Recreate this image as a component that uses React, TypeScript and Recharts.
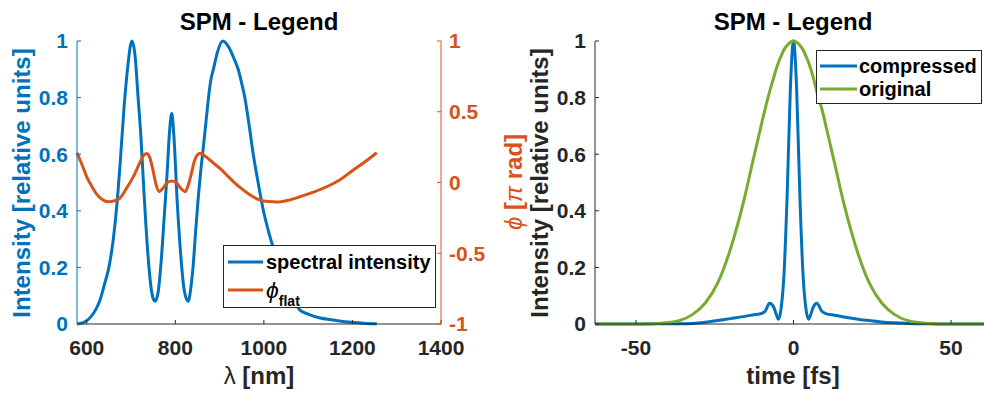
import React from "react"
import { LineChart, Line, XAxis, YAxis, Legend } from "recharts"

// spectral domain: intensity and flat phase versus wavelength (nm)
const wavelength = [
  578, 590, 600, 610, 620, 630, 640, 650, 660, 668, 676, 684, 692, 702, 709, 716, 722, 728, 734, 740,
  747, 754, 761, 768, 775, 781, 787, 792, 797, 804, 812, 820, 829, 836, 840, 846, 852, 858, 863, 869,
  875, 880, 886, 895, 907, 920, 932, 942, 950, 957, 966, 976, 987, 999, 1010, 1021, 1035, 1050, 1065, 1081,
  1100, 1125, 1156, 1190, 1225, 1255,
]
const spectralIntensity = [
  0, 0.004, 0.012, 0.027, 0.05, 0.085, 0.14, 0.2, 0.3, 0.42, 0.58, 0.76, 0.9, 1.0, 0.95, 0.8, 0.67, 0.5, 0.34, 0.21,
  0.11, 0.08, 0.11, 0.22, 0.38, 0.52, 0.68, 0.745, 0.66, 0.44, 0.25, 0.12, 0.08, 0.14, 0.2, 0.33, 0.45, 0.55, 0.62, 0.71,
  0.8, 0.86, 0.9, 0.96, 1.0, 0.98, 0.94, 0.9, 0.85, 0.8, 0.71, 0.6, 0.5, 0.4, 0.33, 0.27, 0.19, 0.13, 0.09, 0.05,
  0.035, 0.022, 0.014, 0.007, 0.003, 0.001,
]
const phaseWavelength = [
  578, 590, 600, 612, 622, 635, 649, 662, 675, 690, 705, 720, 728, 735, 742, 750, 757, 764, 772, 782,
  792, 802, 812, 822, 829, 836, 844, 856, 870, 885, 901, 920, 946, 970, 991, 1010, 1029, 1055, 1082, 1110,
  1142, 1172, 1202, 1230, 1255,
]
const phaseFlat = [
  0.21, 0.12, 0.04, -0.03, -0.08, -0.12, -0.136, -0.13, -0.11, -0.04, 0.04, 0.14, 0.19, 0.205, 0.18, 0.08, -0.02, -0.065, -0.04, 0.0,
  0.01, 0.0, -0.04, -0.065, -0.02, 0.06, 0.16, 0.206, 0.18, 0.14, 0.1, 0.04, -0.035, -0.09, -0.124, -0.135, -0.138, -0.125, -0.1, -0.07,
  -0.03, 0.02, 0.088, 0.15, 0.21,
]

// temporal domain: pulse intensity versus time (fs)
const time = [
  -63, -55, -48, -42, -36, -32, -28, -24, -20, -16, -13, -10.5, -9, -7.6, -6.3, -5.5, -4.75, -4, -3, -2,
  -1, 0, 1, 2, 3, 4, 4.75, 5.5, 6.3, 7.4, 9, 10.5, 13, 16, 20, 24, 28, 32, 36, 42,
  48, 55, 63,
]
const compressed = [
  0, 0, 0, 0.001, 0.001, 0.002, 0.006, 0.012, 0.019, 0.026, 0.032, 0.036, 0.045, 0.073, 0.06, 0.035, 0.017, 0.05, 0.18, 0.46,
  0.83, 1, 0.83, 0.46, 0.18, 0.05, 0.017, 0.035, 0.06, 0.073, 0.045, 0.036, 0.031, 0.025, 0.018, 0.012, 0.007, 0.004, 0.002, 0.001,
  0, 0, 0,
]
const original = [
  0, 0, 0, 0.003, 0.013, 0.034, 0.074, 0.146, 0.265, 0.425, 0.57, 0.69, 0.76, 0.82, 0.87, 0.9, 0.925, 0.945, 0.97, 0.985,
  0.996, 1, 0.996, 0.985, 0.97, 0.945, 0.925, 0.9, 0.87, 0.82, 0.76, 0.69, 0.57, 0.425, 0.265, 0.146, 0.074, 0.034, 0.013, 0.003,
  0, 0, 0,
]

const wavelengthTicks = [600, 800, 1000, 1200, 1400]
const intensityTicks = [0, 0.2, 0.4, 0.6, 0.8, 1]
const phaseTicks = [-1, -0.5, 0, 0.5, 1]
const timeTicks = [-50, 0, 50]

const BLUE = "#0072BD"
const ORANGE = "#D95319"
const GREEN = "#77AC30"
const AXIS = "#262626"
const FONT = '"Liberation Sans", Arial, Helvetica, sans-serif'
const LINE_WIDTH = 3

const spectrumData = wavelength.map((lambda, i) => ({ lambda, intensity: spectralIntensity[i] }))
const phaseData = phaseWavelength.map((lambda, i) => ({ lambda, phase: phaseFlat[i] }))
const pulseData = time.map((t, i) => ({ t, compressed: compressed[i], original: original[i] }))

const tickFont = (fill: string) => ({ fill, fontSize: 21, fontWeight: 700, fontFamily: FONT })

// legend label: "a_b" is drawn as a with subscript b
function legendText(value: string) {
  const [main, sub] = value.split("_")
  if (!sub) return <span>{value}</span>
  return (
    <span>
      <span style={{ fontStyle: "italic", fontWeight: 400, fontSize: 23 }}>{main}</span>
      <span style={{ fontSize: 14, position: "relative", top: 8 }}>{sub}</span>
    </span>
  )
}

type Box = { width: number; height: number; padTop: number; row: number; x1: number; x2: number }

function legendContent(box: Box) {
  return ({ payload }: any) => (
    <div
      style={{
        width: box.width,
        height: box.height,
        boxSizing: "border-box",
        border: `1px solid ${AXIS}`,
        background: "#fff",
        paddingTop: box.padTop,
        fontFamily: FONT,
        fontWeight: 700,
        fontSize: 20,
        color: "#000",
        lineHeight: 1,
      }}
    >
      {(payload || []).map((entry: any) => (
        <div key={entry.value} style={{ display: "flex", alignItems: "center", height: box.row }}>
          <svg width={42} height={6} style={{ flex: "none" }}>
            <line x1={box.x1} x2={box.x2} y1={3} y2={3} stroke={entry.color} strokeWidth={LINE_WIDTH} />
          </svg>
          {legendText(entry.value)}
        </div>
      ))}
    </div>
  )
}

function Caption({ x, y, vertical, color, size = 24, children }: any) {
  return (
    <div
      style={{
        position: "absolute",
        left: x,
        top: y,
        transform: `translate(-50%, -50%)${vertical ? " rotate(-90deg)" : ""}`,
        color,
        fontSize: size,
        fontWeight: 700,
        fontFamily: FONT,
        lineHeight: 1,
        whiteSpace: "nowrap",
      }}
    >
      {children}
    </div>
  )
}

function SpectrumChart() {
  return (
    <LineChart width={500} height={399} margin={{ top: 41, right: 0, bottom: 0, left: 0 }}>
      <XAxis
        xAxisId="bottom"
        dataKey="lambda"
        type="number"
        domain={[578, 1400]}
        ticks={wavelengthTicks}
        interval={0}
        height={75}
        tickSize={-4}
        tickMargin={20}
        stroke={AXIS}
        tick={tickFont(AXIS)}
      />
      <XAxis
        xAxisId="top"
        orientation="top"
        type="number"
        domain={[578, 1400]}
        allowDataOverflow
        ticks={wavelengthTicks}
        interval={0}
        height={0}
        tickSize={-4}
        stroke={AXIS}
        tick={false}
      />
      <YAxis
        yAxisId="left"
        type="number"
        domain={[0, 1]}
        ticks={intensityTicks}
        interval={0}
        width={77}
        tickSize={-4}
        tickMargin={13}
        stroke={BLUE}
        tick={tickFont(BLUE)}
      />
      <YAxis
        yAxisId="right"
        orientation="right"
        type="number"
        domain={[-1, 1]}
        ticks={phaseTicks}
        interval={0}
        width={59}
        tickSize={-4}
        tickMargin={12}
        stroke={ORANGE}
        tick={tickFont(ORANGE)}
      />
      <Line
        xAxisId="bottom"
        yAxisId="left"
        data={spectrumData}
        dataKey="intensity"
        name="spectral intensity"
        type="monotone"
        stroke={BLUE}
        strokeWidth={LINE_WIDTH}
        dot={false}
        isAnimationActive={false}
      />
      <Line
        xAxisId="bottom"
        yAxisId="right"
        data={phaseData}
        dataKey="phase"
        name="ϕ_flat"
        type="monotone"
        stroke={ORANGE}
        strokeWidth={LINE_WIDTH}
        dot={false}
        isAnimationActive={false}
      />
      <Legend
        layout="vertical"
        align="center"
        verticalAlign="middle"
        wrapperStyle={{ left: 223, top: 245 }}
        content={legendContent({ width: 213, height: 63, padTop: 2, row: 28, x1: 4, x2: 39 })}
      />
    </LineChart>
  )
}

function PulseChart() {
  return (
    <LineChart width={500} height={399} data={pulseData} margin={{ top: 41, right: 8, bottom: 0, left: 0 }}>
      <XAxis
        xAxisId="bottom"
        dataKey="t"
        type="number"
        domain={[-63, 63]}
        ticks={timeTicks}
        interval={0}
        height={75}
        tickSize={-4}
        tickMargin={20}
        stroke={AXIS}
        tick={tickFont(AXIS)}
      />
      <XAxis
        xAxisId="top"
        orientation="top"
        type="number"
        domain={[-63, 63]}
        allowDataOverflow
        ticks={timeTicks}
        interval={0}
        height={0}
        tickSize={-4}
        stroke={AXIS}
        tick={false}
      />
      <YAxis
        type="number"
        domain={[0, 1]}
        ticks={intensityTicks}
        interval={0}
        width={95}
        tickSize={-4}
        tickMargin={13}
        stroke={AXIS}
        tick={tickFont(AXIS)}
      />
      <Line
        xAxisId="bottom"
        dataKey="compressed"
        name="compressed"
        type="monotone"
        stroke={BLUE}
        strokeWidth={LINE_WIDTH}
        dot={false}
        isAnimationActive={false}
      />
      <Line
        xAxisId="bottom"
        dataKey="original"
        name="original"
        type="monotone"
        stroke={GREEN}
        strokeWidth={LINE_WIDTH}
        dot={false}
        isAnimationActive={false}
      />
      <Legend
        layout="vertical"
        align="center"
        verticalAlign="middle"
        wrapperStyle={{ left: 316, top: 50 }}
        content={legendContent({ width: 166, height: 54, padTop: 3, row: 23.6, x1: 3, x2: 40 })}
      />
    </LineChart>
  )
}

export default function App() {
  return (
    <div
      style={{
        position: "absolute",
        left: 0,
        top: 0,
        width: 984,
        height: 399,
        overflow: "hidden",
        background: "#fff",
        fontFamily: FONT,
      }}
    >
      <div style={{ position: "absolute", left: 0, top: 0 }}>
        <SpectrumChart />
      </div>
      <div style={{ position: "absolute", left: 500, top: 0 }}>
        <PulseChart />
      </div>

      <Caption x={259} y={22} color="#000">SPM - Legend</Caption>
      <Caption x={793} y={22} color="#000">SPM - Legend</Caption>

      <Caption x={22} y={182.5} vertical color={BLUE}>Intensity [relative units]</Caption>
      <Caption x={540} y={182.5} vertical color={AXIS}>Intensity [relative units]</Caption>
      <Caption x={514} y={181.5} vertical color={ORANGE}>
        <span style={{ fontStyle: "italic", fontWeight: 400 }}>ϕ</span> [<span style={{ fontStyle: "italic", fontWeight: 400 }}>π</span> rad]
      </Caption>

      <Caption x={259} y={376} color={AXIS}>
        <span style={{ fontWeight: 400 }}>λ</span> [nm]
      </Caption>
      <Caption x={793} y={376} color={AXIS}>time [fs]</Caption>
    </div>
  )
}
